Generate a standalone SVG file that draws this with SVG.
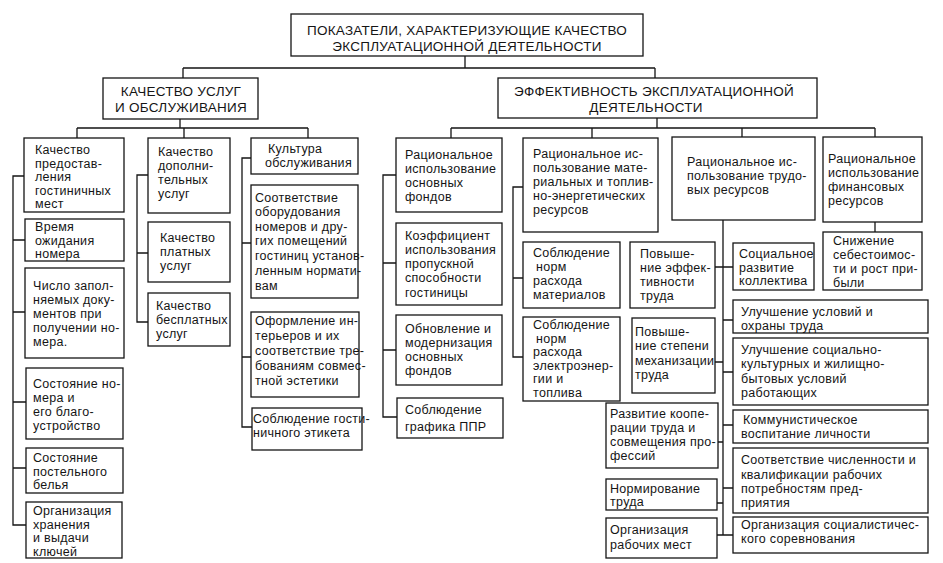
<svg xmlns="http://www.w3.org/2000/svg" width="943" height="563" viewBox="0 0 943 563">
<style>
.b{fill:#fff;stroke:#151515;stroke-width:1.3}
.c{fill:none;stroke:#151515;stroke-width:1.3}
text{font-family:"Liberation Sans",Arial,sans-serif;font-size:12.5px;letter-spacing:0.3px;fill:#151515}
.h{font-size:13.5px;letter-spacing:0.25px;text-anchor:middle}
</style>
<rect width="943" height="563" fill="#fff"/>
<g id="connectors">
<path class="c" d="M465,56V68M183,68H655M183,68V78M655,68V78"/>
<path class="c" d="M180,119V128M77,128H308M77,128V138M184,128V138M308,128V138"/>
<path class="c" d="M657,118V128M451,128H875M451,128V138M592,128V138M742,128V137M875,128V137"/>
<path class="c" d="M24,176H13V525H26M13,240H25M13,312H25M13,402H26M13,468H26"/>
<path class="c" d="M148,175H137V322H148M137,253H148"/>
<path class="c" d="M251,158H242V427H252M242,243H251M242,357H251"/>
<path class="c" d="M396,175H383V417H397M383,263H396M383,350H396"/>
<path class="c" d="M523,187H513V357H523M513,278H523"/>
<path class="c" d="M723,220V535M715,267H723M715,362H723M718,442H723M717,503H723M717,535H723M723,267H733M723,320H733M723,372H733M723,425H733M723,488H733M723,535H733"/>
<path class="c" d="M875,222V232"/>
</g>
<g id="root"><rect class="b" x="291" y="14" width="352" height="42"/>
<text class="h"><tspan x="467" y="34.5">ПОКАЗАТЕЛИ, ХАРАКТЕРИЗУЮЩИЕ КАЧЕСТВО</tspan><tspan x="467" y="50.5">ЭКСПЛУАТАЦИОННОЙ ДЕЯТЕЛЬНОСТИ</tspan></text></g>
<g id="quality"><rect class="b" x="103" y="78" width="155" height="41"/>
<text class="h"><tspan x="181" y="96">КАЧЕСТВО УСЛУГ</tspan><tspan x="181" y="112">И ОБСЛУЖИВАНИЯ</tspan></text></g>
<g id="efficiency"><rect class="b" x="498" y="78" width="319" height="40"/>
<text class="h"><tspan x="654" y="95.5">ЭФФЕКТИВНОСТЬ ЭКСПЛУАТАЦИОННОЙ</tspan><tspan x="646" y="111.5">ДЕЯТЕЛЬНОСТИ</tspan></text></g>

<g id="a1"><rect class="b" x="24" y="138" width="100" height="74"/>
<text><tspan x="35" y="154">Качество</tspan><tspan x="35" y="167.5">предостав-</tspan><tspan x="35" y="181">ления</tspan><tspan x="35" y="194.5">гостиничных</tspan><tspan x="35" y="208">мест</tspan></text></g>
<g id="a2"><rect class="b" x="25" y="219" width="99" height="42"/>
<text><tspan x="35" y="231">Время</tspan><tspan x="35" y="244.5">ожидания</tspan><tspan x="35" y="258">номера</tspan></text></g>
<g id="a3"><rect class="b" x="25" y="268" width="99" height="90"/>
<text><tspan x="33" y="290">Число запол-</tspan><tspan x="33" y="304">няемых доку-</tspan><tspan x="33" y="318">ментов при</tspan><tspan x="33" y="332">получении но-</tspan><tspan x="33" y="346">мера.</tspan></text></g>
<g id="a4"><rect class="b" x="26" y="368" width="97" height="71"/>
<text><tspan x="33" y="388">Состояние но-</tspan><tspan x="33" y="402">мера и</tspan><tspan x="33" y="416">его благо-</tspan><tspan x="33" y="430">устройство</tspan></text></g>
<g id="a5"><rect class="b" x="26" y="448" width="97" height="45"/>
<text><tspan x="33" y="462">Состояние</tspan><tspan x="33" y="475.5">постельного</tspan><tspan x="33" y="489">белья</tspan></text></g>
<g id="a6"><rect class="b" x="26" y="502" width="96" height="56"/>
<text><tspan x="33" y="515">Организация</tspan><tspan x="33" y="528.5">хранения</tspan><tspan x="33" y="542">и выдачи</tspan><tspan x="33" y="555.5">ключей</tspan></text></g>

<g id="b1"><rect class="b" x="148" y="138" width="82" height="75"/>
<text><tspan x="158" y="156">Качество</tspan><tspan x="158" y="170">дополни-</tspan><tspan x="158" y="184">тельных</tspan><tspan x="158" y="198">услуг</tspan></text></g>
<g id="b2"><rect class="b" x="148" y="222" width="82" height="60"/>
<text><tspan x="160" y="242">Качество</tspan><tspan x="160" y="256">платных</tspan><tspan x="160" y="270">услуг</tspan></text></g>
<g id="b3"><rect class="b" x="148" y="293" width="82" height="53"/>
<text><tspan x="156" y="310">Качество</tspan><tspan x="156" y="324">бесплатных</tspan><tspan x="156" y="338">услуг</tspan></text></g>

<g id="c1"><rect class="b" x="251" y="138" width="107" height="36"/>
<text><tspan x="268" y="153">Культура</tspan><tspan x="265" y="167">обслуживания</tspan></text></g>
<g id="c2"><rect class="b" x="251" y="185" width="107" height="113"/>
<text><tspan x="255" y="202">Соответствие</tspan><tspan x="255" y="216">оборудования</tspan><tspan x="255" y="231">номеров и дру-</tspan><tspan x="255" y="245">гих помещений</tspan><tspan x="255" y="260">гостиниц установ-</tspan><tspan x="255" y="275">ленным нормати-</tspan><tspan x="255" y="290">вам</tspan></text></g>
<g id="c3"><rect class="b" x="251" y="312" width="108" height="85"/>
<text><tspan x="255" y="325">Оформление ин-</tspan><tspan x="255" y="340">терьеров и их</tspan><tspan x="255" y="355">соответствие тре-</tspan><tspan x="255" y="370">бованиям совмес-</tspan><tspan x="255" y="385">тной эстетики</tspan></text></g>
<g id="c4"><rect class="b" x="252" y="408" width="110" height="42"/>
<text><tspan x="253" y="423">Соблюдение гости-</tspan><tspan x="253" y="437">ничного этикета</tspan></text></g>

<g id="d1"><rect class="b" x="396" y="138" width="106" height="74"/>
<text><tspan x="405" y="159">Рациональное</tspan><tspan x="405" y="173">использование</tspan><tspan x="405" y="187">основных</tspan><tspan x="405" y="201">фондов</tspan></text></g>
<g id="d2"><rect class="b" x="396" y="223" width="106" height="82"/>
<text><tspan x="405" y="240">Коэффициент</tspan><tspan x="405" y="254">использования</tspan><tspan x="405" y="268">пропускной</tspan><tspan x="405" y="282">способности</tspan><tspan x="405" y="297">гостиницы</tspan></text></g>
<g id="d3"><rect class="b" x="396" y="315" width="106" height="70"/>
<text><tspan x="405" y="333">Обновление и</tspan><tspan x="405" y="347">модернизация</tspan><tspan x="405" y="361">основных</tspan><tspan x="405" y="375">фондов</tspan></text></g>
<g id="d4"><rect class="b" x="397" y="398" width="106" height="40"/>
<text><tspan x="405" y="414">Соблюдение</tspan><tspan x="405" y="431">графика ППР</tspan></text></g>

<g id="e1"><rect class="b" x="523" y="138" width="135" height="94"/>
<text><tspan x="533" y="158">Рациональное ис-</tspan><tspan x="533" y="172">пользование мате-</tspan><tspan x="533" y="186">риальных и топлив-</tspan><tspan x="533" y="200">но-энергетических</tspan><tspan x="533" y="214">ресурсов</tspan></text></g>
<g id="e2"><rect class="b" x="523" y="242" width="97" height="66"/>
<text><tspan x="533" y="257">Соблюдение</tspan><tspan x="536" y="271">норм</tspan><tspan x="533" y="285">расхода</tspan><tspan x="533" y="299">материалов</tspan></text></g>
<g id="e3"><rect class="b" x="523" y="317" width="97" height="84"/>
<text><tspan x="533" y="329">Соблюдение</tspan><tspan x="536" y="342.5">норм</tspan><tspan x="533" y="356">расхода</tspan><tspan x="533" y="369.5">электроэнер-</tspan><tspan x="533" y="383">гии и</tspan><tspan x="533" y="396.5">топлива</tspan></text></g>

<g id="f1"><rect class="b" x="630" y="242" width="85" height="66"/>
<text><tspan x="640" y="258">Повыше-</tspan><tspan x="640" y="272">ние эффек-</tspan><tspan x="640" y="286">тивности</tspan><tspan x="640" y="300">труда</tspan></text></g>
<g id="f2"><rect class="b" x="632" y="318" width="83" height="75"/>
<text><tspan x="635" y="336">Повыше-</tspan><tspan x="635" y="350">ние степени</tspan><tspan x="635" y="365">механизации</tspan><tspan x="635" y="379">труда</tspan></text></g>
<g id="f3"><rect class="b" x="606" y="403" width="112" height="65"/>
<text><tspan x="610" y="418">Развитие коопе-</tspan><tspan x="610" y="432">рации труда и</tspan><tspan x="610" y="446">совмещения про-</tspan><tspan x="610" y="460">фессий</tspan></text></g>
<g id="f4"><rect class="b" x="606" y="479" width="111" height="31"/>
<text><tspan x="610" y="492.5">Нормирование</tspan><tspan x="610" y="506">труда</tspan></text></g>
<g id="f5"><rect class="b" x="606" y="518" width="111" height="40"/>
<text><tspan x="610" y="534">Организация</tspan><tspan x="610" y="549">рабочих мест</tspan></text></g>

<g id="g0"><rect class="b" x="672" y="137" width="143" height="83"/>
<text><tspan x="687" y="166">Рациональное ис-</tspan><tspan x="687" y="180">пользование трудо-</tspan><tspan x="687" y="194">вых ресурсов</tspan></text></g>
<g id="g1"><rect class="b" x="733" y="243" width="81" height="47"/>
<text><tspan x="739" y="258">Социальное</tspan><tspan x="739" y="271.5">развитие</tspan><tspan x="739" y="285">коллектива</tspan></text></g>
<g id="g2"><rect class="b" x="733" y="300" width="195" height="33"/>
<text><tspan x="741" y="316">Улучшение условий и</tspan><tspan x="741" y="329.5">охраны труда</tspan></text></g>
<g id="g3"><rect class="b" x="733" y="338" width="195" height="67"/>
<text><tspan x="741" y="354">Улучшение социально-</tspan><tspan x="741" y="368">культурных и жилищно-</tspan><tspan x="741" y="383">бытовых условий</tspan><tspan x="741" y="397">работающих</tspan></text></g>
<g id="g4"><rect class="b" x="733" y="410" width="195" height="33"/>
<text><tspan x="743" y="424">Коммунистическое</tspan><tspan x="741" y="438">воспитание личности</tspan></text></g>
<g id="g5"><rect class="b" x="733" y="448" width="195" height="65"/>
<text><tspan x="741" y="464">Соответствие численности и</tspan><tspan x="741" y="479">квалификации рабочих</tspan><tspan x="741" y="493">потребностям пред-</tspan><tspan x="741" y="507">приятия</tspan></text></g>
<g id="g6"><rect class="b" x="733" y="517" width="195" height="36"/>
<text><tspan x="741" y="529">Организация социалистичес-</tspan><tspan x="741" y="543">кого соревнования</tspan></text></g>

<g id="h0"><rect class="b" x="823" y="137" width="99" height="85"/>
<text><tspan x="828" y="163">Рациональное</tspan><tspan x="828" y="177">использование</tspan><tspan x="828" y="191">финансовых</tspan><tspan x="828" y="205">ресурсов</tspan></text></g>
<g id="h1"><rect class="b" x="823" y="232" width="99" height="58"/>
<text><tspan x="833" y="245">Снижение</tspan><tspan x="833" y="259">себестоимос-</tspan><tspan x="833" y="273">ти и рост при-</tspan><tspan x="833" y="287">были</tspan></text></g>
</svg>
